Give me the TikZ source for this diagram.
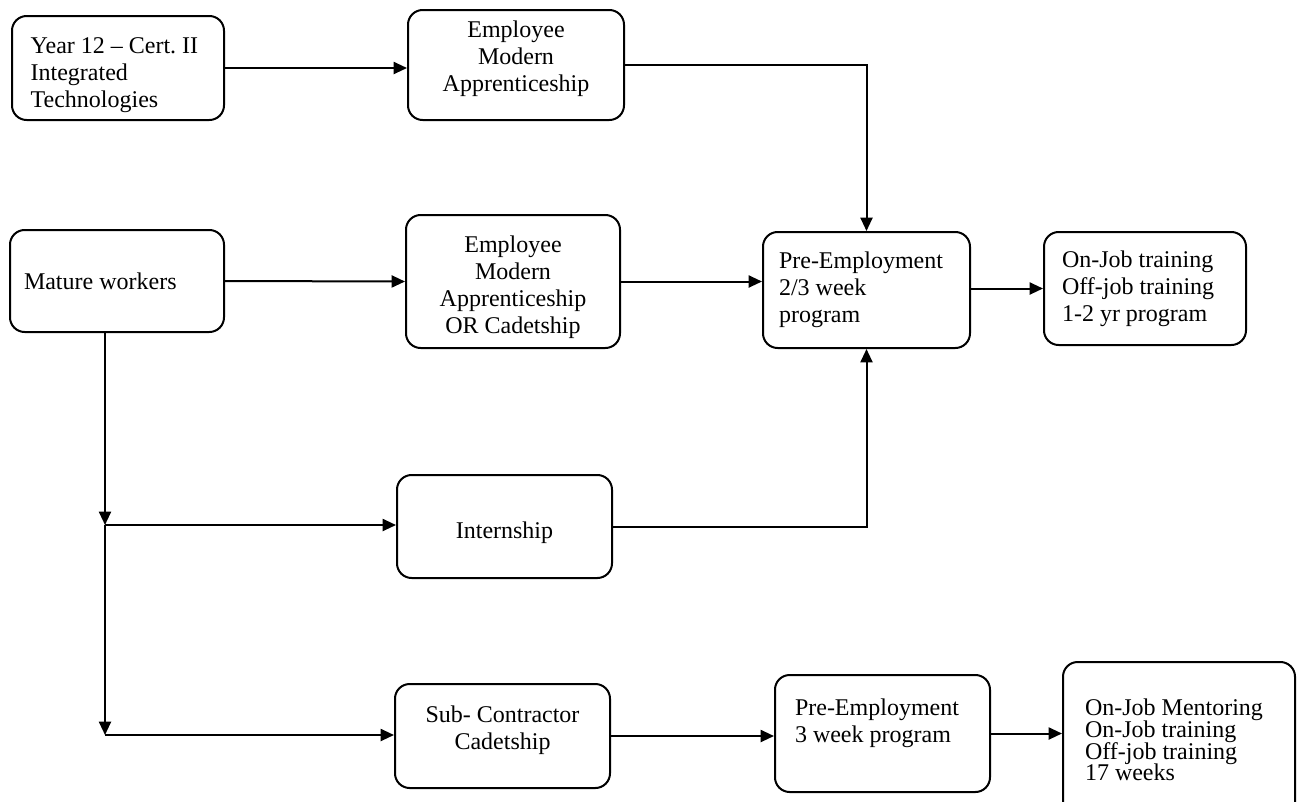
\documentclass[tikz,border=0pt]{standalone}
\usepackage{fontspec}
\setmainfont{Liberation Serif}
\usetikzlibrary{arrows.meta}

\begin{document}
\begin{tikzpicture}[x=.75pt, y=-.75pt,
  box/.style={draw, line width=1.5pt, rounded corners=11pt, inner ysep=0pt,
    font=\fontsize{18}{20.25}\selectfont},
  flow/.style={line width=1.5pt, ->, >={Triangle[length=10pt,width=9pt]}}]
\useasboundingbox (0,0) rectangle (1300,801);
\fill[white] (0,0) rectangle (1300,801);

\node[box, align=flush left, inner xsep=14pt, text width=131pt, minimum height=78pt] (year) at (118,68) {\strut\\[-11.6pt]Year 12 – Cert.\ II\\Integrated\\Technologies};
\node[box, align=flush center, inner xsep=7.5pt, text width=147pt, minimum height=82.5pt] (ema) at (516,65) {Employee\\Modern\\Apprenticeship\\[-13.5pt]\strut};
\node[box, align=flush left, inner xsep=10.5pt, text width=139.5pt, minimum height=76.5pt] (mature) at (117,281) {Mature workers};
\node[box, align=flush center, inner xsep=7.5pt, text width=145.5pt, minimum height=99.75pt] (emaoc) at (513,281.5) {\strut\\[-13.1pt]Employee\\Modern\\Apprenticeship\\OR Cadetship};
\node[box, align=flush left, inner xsep=12pt, text width=131.25pt, minimum height=87pt] (preemp) at (866.5,290) {Pre-Employment\\2/3 week\\program};
\node[box, align=flush left, inner xsep=13.5pt, text width=124.5pt, minimum height=84.75pt] (onjob) at (1145,288.5) {On-Job training\\Off-job training\\1-2 yr program};
\node[box, align=flush center, inner xsep=7.5pt, text width=146.25pt, minimum height=77.25pt] (intern) at (504.5,526.5) {\strut\\[-13.1pt]Internship};
\node[box, align=flush center, inner xsep=7.5pt, text width=146.25pt, minimum height=78pt] (subcon) at (502.5,736) {Sub- Contractor\\Cadetship\\[-13.5pt]\strut};
\node[box, align=flush left, inner xsep=15pt, text width=131.25pt, minimum height=87.75pt] (preemp3) at (882.5,733.5) {Pre-Employment\\3 week program\\[-7pt]\strut};
\node[box, align=flush left, inner xsep=16.5pt, text width=141pt, minimum height=117pt,
  font={\fontsize{18}{16.3}\selectfont\lineskiplimit=-50pt}] (mentor) at (1179,740) {On-Job Mentoring\\On-Job training\\Off-job training\\17 weeks};

\draw[flow] (year.east) -- (year.east -| ema.west);
\draw[flow] (ema.east) -| (preemp.north);
\draw[flow] (mature.east) -- (emaoc.west);
\draw[flow] (emaoc.east) -- (emaoc.east -| preemp.west);
\draw[flow] (onjob.west -| preemp.east) -- (onjob.west);

\coordinate (split) at (105,525);
\coordinate (fork) at (105,735);
\draw[flow] (mature.south -| split) -- (split);
\draw[flow] (split) -- (fork);
\foreach \from/\to in {split/intern, fork/subcon}
  \draw[flow] (\from) -- (\from -| \to.west);
\draw[flow] (intern.east) -| (preemp.south);
\draw[flow] (subcon.east) -- (subcon.east -| preemp3.west);
\draw[flow] (preemp3.east) -- (preemp3.east -| mentor.west);
\end{tikzpicture}
\end{document}
